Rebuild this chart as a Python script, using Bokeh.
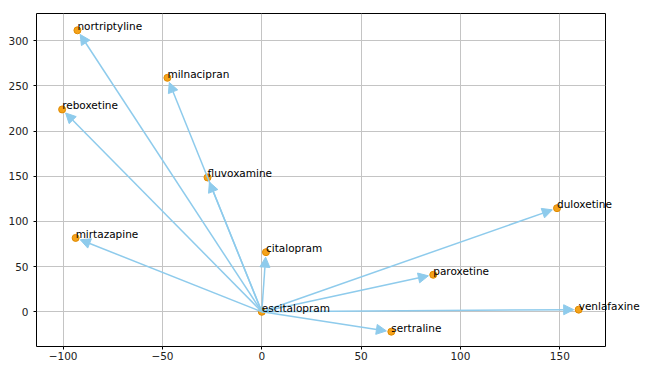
import math
from bokeh.plotting import figure
from bokeh.models import (ColumnDataSource, Arrow, NormalHead,
                          Range1d, FixedTicker)
from bokeh.core.properties import value
from bokeh.embed import file_html
from bokeh.resources import INLINE

# ---- data ----
names = ["escitalopram", "nortriptyline", "milnacipran", "reboxetine",
         "fluvoxamine", "mirtazapine", "citalopram", "duloxetine",
         "paroxetine", "venlafaxine", "sertraline"]
xs = [0, -92.8, -47.5, -100.5, -27.3, -93.7, 2.1, 148.6, 86.3, 159.5, 65.2]
ys = [0, 311.6, 259, 224, 148.7, 81.8, 66, 114.7, 41, 2.4, -22]
origin_name = "escitalopram"
x_ticks = [-100, -50, 0, 50, 100, 150]
y_ticks = [0, 50, 100, 150, 200, 250, 300]

X_MIN, X_MAX = -113.4, 173.0
Y_MIN, Y_MAX = -38.4, 330.2

W, H = 640, 362
BL, BR, BT, BB = 36, 35, 13, 0

p = figure(width=W, height=H, output_backend="svg", toolbar_location=None,
           x_range=Range1d(X_MIN, X_MAX), y_range=Range1d(Y_MIN, Y_MAX),
           min_border_left=BL, min_border_right=BR, min_border_top=BT,
           min_border_bottom=BB)
p.background_fill_color = "white"
p.border_fill_color = "white"
p.outline_line_color = "black"
p.outline_line_width = 1

for ax in (p.xaxis, p.yaxis):
    ax.axis_line_color = None
    ax.major_tick_line_color = "black"
    ax.major_tick_out = 3
    ax.major_tick_in = 0
    ax.minor_tick_line_color = None
    ax.major_label_text_font = "DejaVu Sans"
    ax.major_label_text_font_size = "10.5px"
    ax.major_label_text_color = "#222222"
    ax.major_label_standoff = 2
p.xaxis.ticker = FixedTicker(ticks=x_ticks)
p.yaxis.ticker = FixedTicker(ticks=y_ticks)
p.xaxis.major_label_overrides = {t: (("\u2212" + str(-t)) if t < 0 else str(t)) for t in x_ticks}
p.yaxis.major_label_overrides = {t: (("\u2212" + str(-t)) if t < 0 else str(t)) for t in y_ticks}
p.yaxis.major_label_standoff = 5

p.grid.grid_line_color = "#c4c4c4"
p.grid.grid_line_width = 1

src = ColumnDataSource(dict(x=xs, y=ys, name=names))

# markers
p.scatter("x", "y", source=src, size=7, fill_color="#f5a31a",
          line_color="#e08a00", line_width=1)

# arrows from origin, shortened by a few pixels before the target
oi = names.index(origin_name)
x0, y0 = xs[oi], ys[oi]
fw = W - BL - BR
fh = H - BT - 16
sx = fw / (X_MAX - X_MIN)
sy = fh / (Y_MAX - Y_MIN)
gap = 5.0
for n, x, y in zip(names, xs, ys):
    if n == origin_name:
        continue
    dxp = (x - x0) * sx
    dyp = (y - y0) * sy
    L = math.hypot(dxp, dyp)
    f = 1 - gap / L
    p.add_layout(Arrow(
        x_start=x0, y_start=y0,
        x_end=x0 + (x - x0) * f, y_end=y0 + (y - y0) * f,
        line_color="#8ecbec", line_width=1.5,
        end=NormalHead(size=10, fill_color="#8ecbec", line_color="#8ecbec",
                       line_width=1)))

p.text("x", "y", text="name", source=src, text_font=value("DejaVu Sans"),
       text_font_size="10.5px", text_color="black", text_align="left",
       text_baseline="bottom", y_offset=2, level="overlay")

open("out.html", "w").write(file_html(p, INLINE))
